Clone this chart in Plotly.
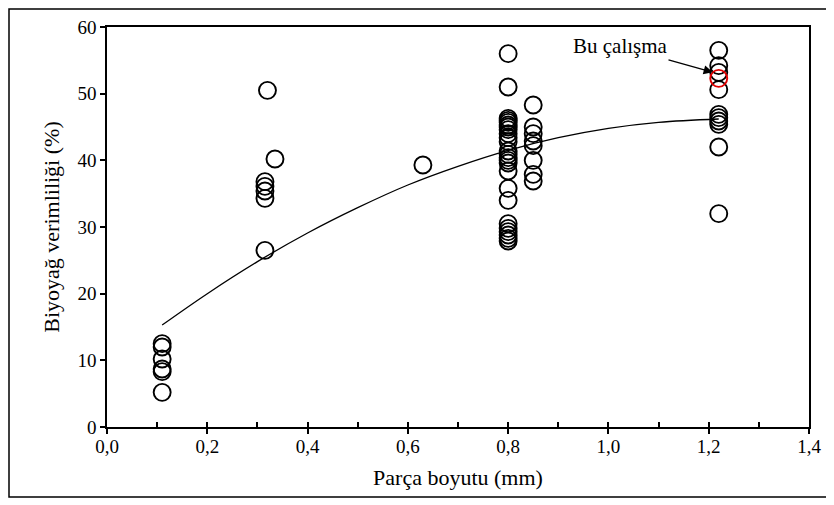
import plotly.graph_objects as go

# Literature data: particle size (mm) and bio-oil yield (%)
size_011 = [0.11] * 6
yield_011 = [12.5, 12.0, 10.2, 8.7, 8.3, 5.2]

size_031 = [0.32, 0.315, 0.315, 0.315, 0.315, 0.315, 0.335]
yield_031 = [50.5, 36.8, 36.1, 35.4, 34.3, 26.5, 40.2]

size_063 = [0.63]
yield_063 = [39.3]

size_080 = [0.8] * 25
yield_080 = [56.0, 51.0, 46.3, 46.0, 45.7, 45.3, 45.0, 44.6, 44.0, 43.4,
             42.8, 41.4, 40.9, 40.4, 40.0, 39.6, 38.4, 35.8, 34.0, 30.5,
             29.8, 29.3, 28.8, 28.3, 27.9]

size_085 = [0.85] * 8
yield_085 = [48.3, 45.0, 44.0, 42.9, 42.2, 40.0, 37.9, 36.9]

size_122 = [1.22] * 10
yield_122 = [56.5, 54.2, 53.2, 50.6, 46.9, 46.4, 45.9, 45.4, 42.0, 32.0]

# This study
this_size = [1.22]
this_yield = [52.3]

# Polynomial trendline
trend_x = [0.11, 0.2, 0.3, 0.4, 0.5, 0.6, 0.7, 0.8, 0.9, 1.0, 1.1, 1.22]
trend_y = [15.3, 20.0, 24.8, 29.1, 32.9, 36.3, 39.1, 41.5, 43.4, 44.8, 45.7, 46.2]

x_all = size_011 + size_031 + size_063 + size_080 + size_085 + size_122
y_all = yield_011 + yield_031 + yield_063 + yield_080 + yield_085 + yield_122

x_ticks = [0.0, 0.2, 0.4, 0.6, 0.8, 1.0, 1.2, 1.4]
y_ticks = [0, 10, 20, 30, 40, 50, 60]

FONT = "Liberation Serif"

fig = go.Figure()
fig.add_trace(go.Scatter(x=trend_x, y=trend_y, mode="lines",
                         line=dict(color="black", width=1.3, shape="spline"),
                         showlegend=False, hoverinfo="skip"))
fig.add_trace(go.Scatter(x=x_all, y=y_all, mode="markers",
                         marker=dict(symbol="circle-open", size=17,
                                     color="black", line=dict(width=1.9)),
                         showlegend=False))
fig.add_trace(go.Scatter(x=this_size, y=this_yield, mode="markers",
                         marker=dict(symbol="circle-open", size=17,
                                     color="#e00000", line=dict(width=1.9)),
                         showlegend=False))
# overlay axis for inside minor ticks
fig.add_trace(go.Scatter(x=[0, 1.4], y=[0, 0], xaxis="x2", mode="markers",
                         marker=dict(opacity=0), showlegend=False,
                         hoverinfo="skip"))

fig.add_annotation(x=this_size[0] - 0.012, y=this_yield[0] + 0.9,
                   text="Bu çalışma", showarrow=True,
                   ax=-92, ay=-26, arrowhead=2, arrowsize=1.4,
                   arrowwidth=1.3, arrowcolor="black",
                   font=dict(family=FONT, size=21, color="black"))

fig.update_layout(
    width=826, height=497,
    margin=dict(l=99, r=25, t=19, b=78),
    paper_bgcolor="white", plot_bgcolor="white",
    separators=",.",
    font=dict(family=FONT, color="black", size=19),
    xaxis=dict(range=[0, 1.4], tickvals=x_ticks, tickformat=".1f",
               automargin=False, ticklabelstandoff=-4,
               ticks="outside", ticklen=5, tickwidth=1.5, tickcolor="black",
               showline=True, linecolor="black", linewidth=1.6, mirror=True,
               showgrid=False, zeroline=False,
               title=dict(text="Parça boyutu (mm)", font=dict(size=22),
                          standoff=14)),
    xaxis2=dict(range=[0, 1.4], overlaying="x", dtick=0.1, tick0=0,
                ticks="inside", ticklen=5, tickwidth=1.5, tickcolor="black",
                showticklabels=False, showgrid=False, zeroline=False,
                showline=False, anchor="y", automargin=False),
    yaxis=dict(range=[0, 60], tickvals=y_ticks, automargin=False,
               ticks="outside", ticklen=5, tickwidth=1.5, tickcolor="black",
               showline=True, linecolor="black", linewidth=1.6, mirror=True,
               showgrid=False, zeroline=False,
               title=dict(text="Biyoyağ verimliliği (%)", font=dict(size=22),
                          standoff=12)),
    shapes=[dict(type="rect", xref="paper", yref="paper",
                 x0=-0.1396, x1=1.0313, y0=-0.175, y1=1.045,
                 line=dict(color="black", width=1.5))],
)

fig.write_html("out.html")
